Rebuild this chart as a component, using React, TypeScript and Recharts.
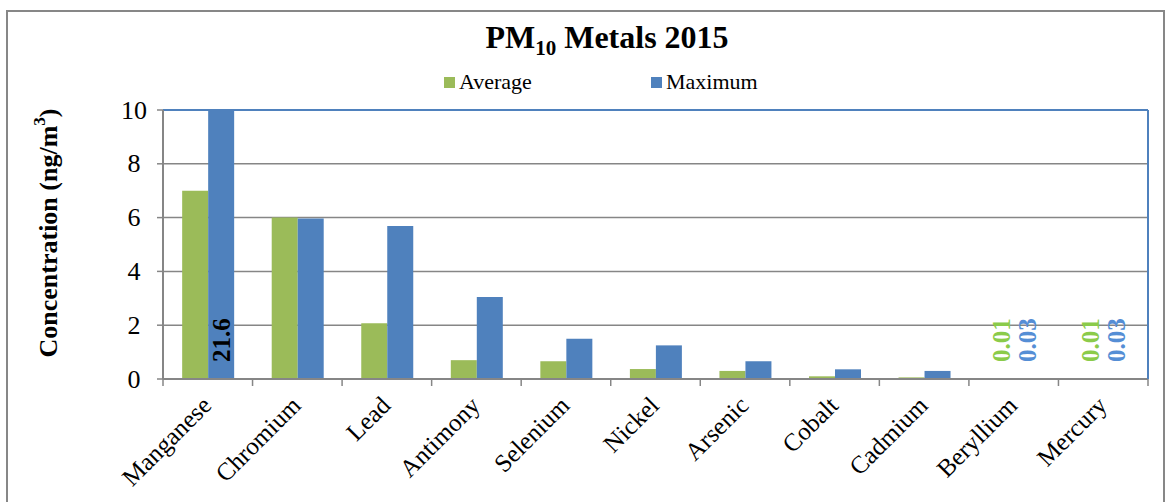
import React from 'react';
import { ComposedChart, Bar, XAxis, YAxis, CartesianGrid, LabelList, ReferenceLine } from 'recharts';

const categories = ['Manganese', 'Chromium', 'Lead', 'Antimony', 'Selenium', 'Nickel', 'Arsenic', 'Cobalt', 'Cadmium', 'Beryllium', 'Mercury'];
const averageValues = [7.0, 6.0, 2.07, 0.7, 0.66, 0.37, 0.3, 0.1, 0.06, 0.01, 0.01];
const maximumValues = [21.6, 5.97, 5.69, 3.05, 1.5, 1.25, 0.66, 0.36, 0.3, 0.03, 0.03];
const yTicks = [0, 2, 4, 6, 8, 10];
const averageLabelled = ['Beryllium', 'Mercury'];
const maximumLabelled = ['Manganese', 'Beryllium', 'Mercury'];

const data = categories.map((name, i) => ({ name, average: averageValues[i], maximum: maximumValues[i] }));

const FONT = "'Liberation Serif', 'Times New Roman', serif";
const GREEN = '#9BBB59';
const BLUE = '#4F81BD';
const GRID = '#868686';

const makeLabel = (labelled: string[], color: string) => (props: any) => {
  const { x, y, width, height, index, value } = props;
  if (!labelled.includes(categories[index])) return null;
  const cx = Number(x) + Number(width) / 2;
  const by = Number(y) + Number(height) - 17;
  return (
    <text
      x={cx}
      y={by}
      transform={`rotate(-90, ${cx}, ${by})`}
      textAnchor="start"
      dominantBaseline="central"
      fontFamily={FONT}
      fontWeight="bold"
      fontSize={25}
      fill={color}
    >
      {String(value)}
    </text>
  );
};

const YTick = (props: any) => {
  const { x, y, payload } = props;
  return (
    <text x={x} y={y} textAnchor="middle" dominantBaseline="central" fontFamily={FONT} fontSize={26} fill="#000">
      {payload.value}
    </text>
  );
};

const XTick = (props: any) => {
  const { x, y, payload, index, visibleTicksCount } = props;
  const half = Number(payload.offset) || 0;
  const cx = Number(x);
  const cy = Number(y);
  const ax = cx + 5;
  const ay = cy + 28;
  return (
    <g>
      <line x1={cx - half} y1={cy} x2={cx - half} y2={cy + 7} stroke={GRID} strokeWidth={1.5} />
      {index === visibleTicksCount - 1 ? (
        <line x1={cx + half} y1={cy} x2={cx + half} y2={cy + 7} stroke={GRID} strokeWidth={1.5} />
      ) : null}
      <text x={ax} y={ay} transform={`rotate(-45, ${ax}, ${ay})`} textAnchor="end" fontFamily={FONT} fontSize={25} fill="#000">
        {payload.value}
      </text>
    </g>
  );
};

export default function App() {
  return (
    <div style={{ position: 'absolute', left: 0, top: 0, width: 1169, height: 502, background: '#fff', overflow: 'hidden' }}>
      <ComposedChart
        width={1169}
        height={502}
        data={data}
        margin={{ top: 110, right: 20, bottom: 23, left: 103 }}
        barCategoryGap="21.4%"
        barGap={0}
      >
        <CartesianGrid vertical={false} stroke={GRID} strokeWidth={1.5} />
        <XAxis
          dataKey="name"
          height={100}
          interval={0}
          tickSize={0}
          tickMargin={0}
          tickLine={false}
          tick={<XTick />}
          axisLine={{ stroke: GRID, strokeWidth: 2 }}
        />
        <YAxis
          domain={[0, 10]}
          ticks={yTicks}
          allowDataOverflow
          width={60}
          tickSize={6}
          tickMargin={23}
          tickLine={{ stroke: GRID, strokeWidth: 1.5 }}
          axisLine={{ stroke: GRID, strokeWidth: 2 }}
          tick={<YTick />}
        />
        <YAxis
          yAxisId="right"
          orientation="right"
          domain={[0, 10]}
          width={1}
          tick={false}
          tickLine={false}
          axisLine={{ stroke: BLUE, strokeWidth: 2 }}
        />
        <Bar dataKey="average" fill={GREEN} isAnimationActive={false}>
          <LabelList dataKey="average" content={makeLabel(averageLabelled, '#8BCB4A')} />
        </Bar>
        <Bar dataKey="maximum" fill={BLUE} isAnimationActive={false}>
          <LabelList dataKey="maximum" content={(p: any) => makeLabel(maximumLabelled, categories[p.index] === 'Manganese' ? '#000' : '#558ED5')(p)} />
        </Bar>
        <ReferenceLine y={10} stroke={BLUE} strokeWidth={2} />
      </ComposedChart>
      <svg width={1169} height={502} style={{ position: 'absolute', left: 0, top: 0, pointerEvents: 'none' }}>
        <rect x={7} y={11} width={1157} height={520} fill="none" stroke="#878787" strokeWidth={2} />
        <text x={607} y={48} textAnchor="middle" fontFamily={FONT} fontWeight="bold" fontSize={32} fill="#000">
          PM<tspan fontSize={21} dy={7}>10</tspan><tspan dy={-7}> Metals 2015</tspan>
        </text>
        <rect x={444} y={77} width={11} height={11} fill={GREEN} />
        <text x={459} y={89} fontFamily={FONT} fontSize={22} fill="#000">Average</text>
        <rect x={651} y={77} width={11} height={11} fill={BLUE} />
        <text x={666} y={89} fontFamily={FONT} fontSize={22} fill="#000">Maximum</text>
        <text
          x={48}
          y={233}
          transform="rotate(-90, 48, 233)"
          textAnchor="middle"
          dominantBaseline="central"
          fontFamily={FONT}
          fontWeight="bold"
          fontSize={26}
          fill="#000"
        >
          Concentration (ng/m<tspan fontSize={17} dy={-9}>3</tspan><tspan dy={9}>)</tspan>
        </text>
      </svg>
    </div>
  );
}
